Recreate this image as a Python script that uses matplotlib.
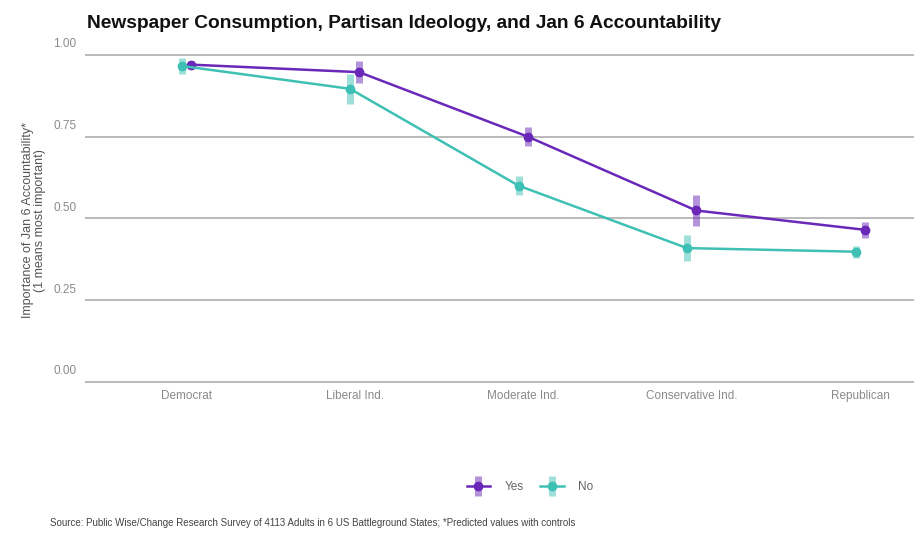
import matplotlib
matplotlib.use("Agg")
import matplotlib.pyplot as plt
import matplotlib.transforms as mtransforms
from matplotlib.colors import to_rgba
from matplotlib.legend_handler import HandlerErrorbar
from matplotlib.container import ErrorbarContainer
import numpy as np

plt.rcParams["font.family"] = ["Liberation Sans", "DejaVu Sans"]

categories = ["Democrat", "Liberal Ind.", "Moderate Ind.", "Conservative Ind.", "Republican"]
yes_vals = [0.970, 0.947, 0.750, 0.524, 0.465]
yes_err = [0.012, 0.034, 0.028, 0.048, 0.025]
no_vals = [0.966, 0.896, 0.600, 0.409, 0.398]
no_err = [0.025, 0.045, 0.028, 0.040, 0.018]
yticks = [0.00, 0.25, 0.50, 0.75, 1.00]

PURPLE = "#6a28b8"
TEAL = "#3fc0b4"
DODGE = 0.027

fig = plt.figure(figsize=(9.14, 5.35), dpi=100)
ax = fig.add_axes([0.093, 0.274, 0.907, 0.648])

x = np.arange(len(categories))
series = [("Yes", yes_vals, yes_err, PURPLE, DODGE),
          ("No", no_vals, no_err, TEAL, -DODGE)]
handles = []
for name, vals, err, color, shift in series:
    h = ax.errorbar(x + shift, vals, yerr=err, fmt="-o", color=color,
                    ecolor=to_rgba(color, 0.5), elinewidth=5, capsize=0,
                    lw=1.8, ms=6, label=name, zorder=3)
    handles.append(h)

ax.set_xlim(-0.6, 4.32)
ax.set_ylim(-0.02, 1.04)
ax.set_xticks(x)
ax.set_xticklabels(categories)
ax.set_yticks(yticks)
ax.set_yticklabels([f"{t:.2f}" for t in yticks])
ax.tick_params(length=0, labelsize=8.5, labelcolor="#8a8a8a")
ax.tick_params(axis="x", pad=1.5)
ax.tick_params(axis="y", pad=6)

# y labels sit a little above their gridlines
offset = mtransforms.ScaledTranslation(0, 12 / 100, fig.dpi_scale_trans)
for lbl in ax.get_yticklabels():
    lbl.set_transform(lbl.get_transform() + offset)

ax.yaxis.grid(True, color="#b4b4b4", lw=1.3)
ax.xaxis.grid(False)
ax.set_axisbelow(True)
for s in ax.spines.values():
    s.set_visible(False)

fig.text(0.037, 0.588, "Importance of Jan 6 Accountability*\n(1 means most important)",
         rotation=90, ha="center", va="center", fontsize=9, color="#555555",
         linespacing=1.0)

fig.text(0.095, 0.957, "Newspaper Consumption, Partisan Ideology, and Jan 6 Accountability",
         fontsize=13.8, fontweight="bold", color="#111111", va="center")

fig.legend(handles=handles, labels=["Yes", "No"], loc="center",
           bbox_to_anchor=(0.58, 0.09), ncol=2, frameon=False, fontsize=8.5,
           handlelength=2.0, columnspacing=1.35, handletextpad=1.25,
           labelcolor="#666666",
           handler_map={ErrorbarContainer: HandlerErrorbar(yerr_size=0.85)})

fig.text(0.055, 0.022,
         "Source: Public Wise/Change Research Survey of 4113 Adults in 6 US Battleground States; *Predicted values with controls",
         fontsize=7, color="#444444", va="center")

fig.savefig("out.png", dpi=100)
